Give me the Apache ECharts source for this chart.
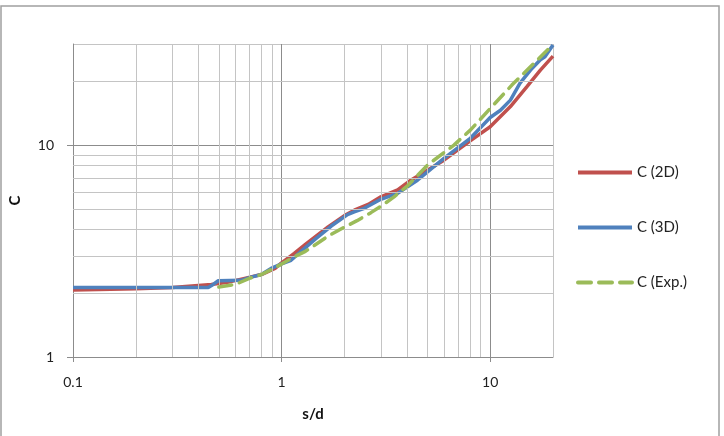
<!DOCTYPE html>
<html>
<head>
<meta charset="utf-8">
<script src="https://cdn.jsdelivr.net/npm/echarts@6/dist/echarts.min.js"></script>
<style>
  html, body { margin: 0; padding: 0; background: #fff; }
  #main { width: 724px; height: 436px; }
</style>
</head>
<body>
<div id="main"></div>
<script>
// s/d values and C readings for each curve
var sd2D = [0.1, 0.2, 0.3, 0.46, 0.55, 0.665, 0.8, 0.93, 1.0, 1.15, 1.3, 1.67, 2.0, 2.23, 2.6, 2.99, 3.6, 4.16, 6.0, 8.05, 10, 12.5, 15, 17.4, 20];
var c2D = [2.07, 2.1, 2.13, 2.2, 2.25, 2.35, 2.45, 2.62, 2.78, 3.08, 3.4, 4.11, 4.65, 4.93, 5.25, 5.7, 6.15, 6.83, 8.49, 10.5, 12.2, 15.2, 18.9, 22.6, 26.3];

var sd3D = [0.1, 0.2, 0.3, 0.445, 0.47, 0.497, 0.64, 0.7, 0.8, 0.89, 1.0, 1.11, 1.24, 1.45, 1.73, 2.07, 2.23, 2.49, 2.99, 3.6, 4.48, 6.0, 8.05, 10, 11.2, 12.5, 13.9, 15.6, 17.4, 18.3, 20];
var c3D = [2.13, 2.13, 2.13, 2.13, 2.2, 2.29, 2.3, 2.37, 2.45, 2.62, 2.75, 2.86, 3.15, 3.6, 4.15, 4.7, 4.84, 5.03, 5.55, 5.92, 6.83, 8.65, 10.8, 13.5, 14.6, 16.3, 19.6, 22.6, 25.3, 26.1, 29.7];

var sdExp = [0.5, 0.6, 0.7, 0.8, 0.93, 1.0, 1.15, 1.3, 1.67, 2.0, 2.3, 2.68, 3.0, 3.46, 4.0, 5.0, 6.7, 8.05, 10.2, 12.7, 16.2, 20];
var cExp = [2.14, 2.2, 2.35, 2.45, 2.64, 2.75, 2.97, 3.15, 3.72, 4.1, 4.4, 4.8, 5.15, 5.7, 6.4, 8.04, 10.0, 11.8, 15.2, 19.2, 24.3, 29.8];

var names = ['C (2D)', 'C (3D)', 'C (Exp.)'];
var colors = ['#C0504D', '#4F81BD', '#9BBB59'];

// minor gridlines of the log axes
var xMinor = [0.2, 0.3, 0.4, 0.5, 0.6, 0.7, 0.8, 0.9, 2, 3, 4, 5, 6, 7, 8, 9];
var yMinor = [2, 3, 4, 5, 6, 7, 8, 9, 20];

function pairs(xs, ys) {
  return xs.map(function (v, i) { return [v, ys[i]]; });
}

var font = 'Lato, "Open Sans", sans-serif';
var chart = echarts.init(document.getElementById('main'));

var gridLines = [];
xMinor.forEach(function (v) { gridLines.push({ xAxis: v }); });
yMinor.forEach(function (v) { gridLines.push({ yAxis: v }); });

var option = {
  animation: false,
  backgroundColor: '#fff',
  textStyle: { fontFamily: font },
  graphic: [{
    type: 'rect',
    shape: { x: 1, y: 6, width: 718, height: 445 },
    style: { fill: 'none', stroke: '#a0a0a0', lineWidth: 1.5 },
    silent: true
  }],
  grid: { left: 71, right: 171, top: 44, bottom: 79 },
  legend: {
    data: names,
    orient: 'vertical',
    left: 571,
    top: 160,
    itemWidth: 54,
    itemHeight: 14,
    itemGap: 40,
    itemStyle: { opacity: 0 },
    lineStyle: { width: 4 },
    textStyle: { fontSize: 15, color: '#222', fontFamily: font }
  },
  xAxis: {
    type: 'log',
    logBase: 10,
    min: 0.1,
    max: 20,
    name: 's/d',
    nameLocation: 'middle',
    nameGap: 50,
    nameTextStyle: { fontSize: 15, fontWeight: 'bold', color: '#111', fontFamily: font },
    axisLine: { lineStyle: { color: '#8c8c8c', width: 1 } },
    axisTick: { show: true, length: 5, lineStyle: { color: '#8c8c8c' } },
    axisLabel: {
      fontSize: 14, color: '#222', margin: 18, showMaxLabel: false,
      formatter: function (v) { return String(+v.toPrecision(3)); }
    },
    splitLine: { show: true, lineStyle: { color: ['#8c8c8c', '#8c8c8c', '#8c8c8c', '#c4c4c4'], width: 1 } }
  },
  yAxis: {
    type: 'log',
    logBase: 10,
    min: 1,
    max: 30,
    name: 'C',
    nameLocation: 'middle',
    nameRotate: 90,
    nameGap: 50,
    nameTextStyle: { fontSize: 15, fontWeight: 'bold', color: '#111', fontFamily: font },
    axisLine: { show: true, lineStyle: { color: '#8c8c8c', width: 1 } },
    axisTick: { show: true, length: 6, lineStyle: { color: '#8c8c8c' } },
    axisLabel: {
      fontSize: 14, color: '#222', margin: 19, showMaxLabel: false,
      formatter: function (v) { return String(+v.toPrecision(3)); }
    },
    splitLine: { show: true, lineStyle: { color: ['#8c8c8c', '#8c8c8c', '#c4c4c4'], width: 1 } }
  },
  series: [{
    name: 'grid',
    type: 'line',
    data: [],
    silent: true,
    z: 1,
    markLine: {
      silent: true,
      symbol: 'none',
      label: { show: false },
      lineStyle: { color: '#c4c4c4', type: 'solid', width: 1 },
      emphasis: { disabled: true },
      data: gridLines
    }
  }, {
    name: names[0],
    type: 'line',
    data: pairs(sd2D, c2D),
    showSymbol: false,
    symbol: 'none',
    z: 3,
    lineStyle: { color: colors[0], width: 3.5 },
    itemStyle: { color: colors[0] }
  }, {
    name: names[1],
    type: 'line',
    data: pairs(sd3D, c3D),
    showSymbol: false,
    symbol: 'none',
    z: 4,
    lineStyle: { color: colors[1], width: 3.5 },
    itemStyle: { color: colors[1] }
  }, {
    name: names[2],
    type: 'line',
    data: pairs(sdExp, cExp),
    showSymbol: false,
    symbol: 'none',
    z: 5,
    lineStyle: { color: colors[2], width: 3.5, type: [13, 8], cap: 'round' },
    itemStyle: { color: colors[2] }
  }]
};

chart.setOption(option);
</script>
</body>
</html>
